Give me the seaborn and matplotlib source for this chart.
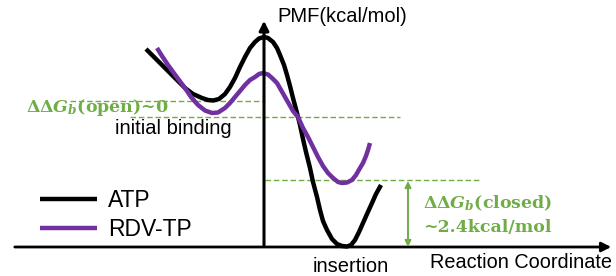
import pandas as pd
import matplotlib
matplotlib.use("Agg")
import matplotlib.pyplot as plt
import seaborn as sns

# Schematic PMF curves (reaction coordinate, PMF in arbitrary units)
atp_rc = [-118, -112, -104, -96, -88, -79, -71, -62, -56, -51, -45, -39, -34, -29, -24, -19,
          -14, -9, -5, 0, 4, 9, 13, 16, 20, 23, 26, 29, 33, 36, 39, 42, 46, 49, 53, 56, 59,
          63, 68, 73, 78, 83, 87, 91, 95, 99, 103, 108, 112, 117]
atp_pmf = [198, 192, 184, 176, 168, 159, 153, 149, 147, 146.5, 148, 153, 160, 169, 180, 190,
           199, 205, 208.5, 210, 209, 205, 199, 192, 182, 172, 161, 149, 134, 122, 108, 95,
           79, 65, 50, 37, 26, 17, 8, 3, 1, 0.5, 2, 7, 15, 24, 33, 44, 53, 62]

rdv_rc = [-107, -102, -96, -88, -79, -73, -66, -59, -52, -46, -39, -34, -29, -24, -19, -14,
          -9, -5, -1, 4, 8, 13, 17, 21, 25, 29, 34, 39, 44, 49, 54, 59, 64, 69, 74, 78, 83,
          88, 92, 96, 99, 102, 104, 106]
rdv_pmf = [199, 191, 182, 171, 159, 150, 142, 136.5, 134, 134.5, 139, 144, 150, 156, 162, 167,
           170, 173, 174, 172.5, 169, 164, 157, 150, 143, 136, 130, 119, 110, 100, 90, 81, 74,
           69, 65, 64, 64.5, 67, 72, 79, 84, 91, 97, 104]

labels = ["ATP", "RDV-TP"]
colors = {"ATP": "black", "RDV-TP": "#7030A0"}

# reference levels (dashed green lines)
open_atp_level = 146
open_rdv_level = 130
closed_rdv_level = 67
green = "#70AD47"

df = pd.concat([
    pd.DataFrame({"rc": atp_rc, "pmf": atp_pmf, "ligand": labels[0]}),
    pd.DataFrame({"rc": rdv_rc, "pmf": rdv_pmf, "ligand": labels[1]}),
])

sns.set_style("white")
plt.rcParams["mathtext.fontset"] = "dejavuserif"
plt.rcParams["font.family"] = ["Liberation Sans", "DejaVu Sans"]
plt.rcParams["text.color"] = "black"

fig = plt.figure(figsize=(6.16, 2.76), dpi=100)
ax = fig.add_axes([0, 0, 1, 1])

sns.lineplot(data=df, x="rc", y="pmf", hue="ligand", palette=colors, sort=False,
             estimator=None, linewidth=3.2, ax=ax, zorder=3)
for line in ax.get_lines():
    line.set_solid_joinstyle("round")
    line.set_solid_capstyle("butt")

ax.set_xlim(-264, 352)
ax.set_ylim(-29, 247)
ax.axis("off")

# dashed reference lines
dash = (0, (4, 2))
ax.plot([-194, 1], [open_atp_level] * 2, ls=dash, color=green, lw=1, zorder=2)
ax.plot([-134, 136], [open_rdv_level] * 2, ls=dash, color=green, lw=1, zorder=2)
ax.plot([1, 216], [closed_rdv_level] * 2, ls=dash, color=green, lw=1, zorder=2)

# axes with arrow heads
ax.annotate("", xy=(350, 0), xytext=(-252, 0),
            arrowprops=dict(arrowstyle="-|>", color="black", lw=2, mutation_scale=14))
ax.annotate("", xy=(0, 229), xytext=(0, -1),
            arrowprops=dict(arrowstyle="-|>", color="black", lw=2.2, mutation_scale=14))

# closed-state gap arrow
ax.annotate("", xy=(144, closed_rdv_level - 1), xytext=(144, 0),
            arrowprops=dict(arrowstyle="<|-|>", color=green, lw=1.4, mutation_scale=9,
                            shrinkA=0, shrinkB=0))

ax.text(13, 230, "PMF(kcal/mol)", fontsize=14.5, ha="left", va="center")
ax.text(-149, 118, "initial binding", fontsize=14.5, ha="left", va="center")
ax.text(49, -20, "insertion", fontsize=14.5, ha="left", va="center")
ax.text(166, -15, "Reaction Coordinate", fontsize=14.3, ha="left", va="center")

gtext = dict(color=green, fontsize=12.5, fontweight="bold", family="DejaVu Serif",
             ha="left", va="center")
ax.text(-238, 140, r"$\mathbf{\Delta\Delta}\mathbfit{G}_{\mathbfit{b}}$(open)~0", **gtext)
ax.text(159, 44, r"$\mathbf{\Delta\Delta}\mathbfit{G}_{\mathbfit{b}}$(closed)", **gtext)
ax.text(159, 19, "~2.4kcal/mol", **gtext)

leg = ax.legend(loc="center left", bbox_to_anchor=(0.065, 0.221), frameon=False,
                fontsize=16.5, handlelength=2.5, handletextpad=0.45, labelspacing=0.25,
                borderpad=0, borderaxespad=0, title=None)
for line in leg.get_lines():
    line.set_linewidth(3.2)

fig.savefig("out.png", dpi=100)
